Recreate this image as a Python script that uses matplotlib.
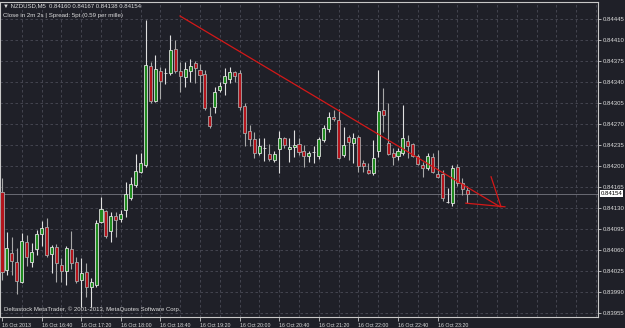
import numpy as np
import matplotlib
matplotlib.use("Agg")
import matplotlib.pyplot as plt
from matplotlib import font_manager

# NZDUSD M5, 16 Oct 2013 16:00 .. 23:50
opens = [0.84157, 0.84027, 0.84055, 0.84040, 0.84007, 0.84073, 0.84040, 0.84062, 0.84087, 0.84098,
         0.84053, 0.84065, 0.84035, 0.84025, 0.84062, 0.84040, 0.84010, 0.84023, 0.83998, 0.84002,
         0.84107, 0.84125, 0.84092, 0.84117, 0.84112, 0.84127, 0.84147, 0.84168, 0.84190, 0.84202,
         0.84367, 0.84308, 0.84358, 0.84355, 0.84355, 0.84395, 0.84358, 0.84348, 0.84358, 0.84372,
         0.84360, 0.84353, 0.84283, 0.84298, 0.84327, 0.84338, 0.84345, 0.84357, 0.84355, 0.84300,
         0.84258, 0.84245, 0.84222, 0.84230, 0.84220, 0.84210, 0.84228, 0.84247, 0.84228, 0.84232,
         0.84237, 0.84225, 0.84217, 0.84223, 0.84217, 0.84243, 0.84262, 0.84282, 0.84277, 0.84218,
         0.84248, 0.84238, 0.84248, 0.84205, 0.84193, 0.84188, 0.84225, 0.84293, 0.84238, 0.84222,
         0.84217, 0.84222, 0.84242, 0.84237, 0.84217, 0.84202, 0.84197, 0.84215, 0.84187, 0.84187,
         0.84140, 0.84138, 0.84198, 0.84172, 0.84160]
highs = [0.84180, 0.84090, 0.84082, 0.84063, 0.84088, 0.84085, 0.84072, 0.84093, 0.84108, 0.84113,
         0.84068, 0.84070, 0.84047, 0.84067, 0.84092, 0.84048, 0.84047, 0.84038, 0.84013, 0.84110,
         0.84148, 0.84127, 0.84123, 0.84123, 0.84127, 0.84173, 0.84182, 0.84220, 0.84222, 0.84443,
         0.84373, 0.84385, 0.84365, 0.84363, 0.84418, 0.84410, 0.84373, 0.84373, 0.84378, 0.84375,
         0.84370, 0.84360, 0.84298, 0.84332, 0.84340, 0.84363, 0.84365, 0.84358, 0.84360, 0.84305,
         0.84268, 0.84257, 0.84247, 0.84247, 0.84237, 0.84225, 0.84258, 0.84248, 0.84247, 0.84260,
         0.84247, 0.84235, 0.84225, 0.84233, 0.84248, 0.84268, 0.84290, 0.84293, 0.84295, 0.84265,
         0.84252, 0.84255, 0.84252, 0.84210, 0.84205, 0.84243, 0.84360, 0.84330, 0.84305, 0.84230,
         0.84230, 0.84302, 0.84252, 0.84238, 0.84220, 0.84207, 0.84222, 0.84222, 0.84227, 0.84193,
         0.84163, 0.84202, 0.84203, 0.84180, 0.84167]
lows = [0.84010, 0.84018, 0.84018, 0.83987, 0.84005, 0.84033, 0.84032, 0.84052, 0.84067, 0.84048,
        0.84022, 0.84007, 0.84007, 0.84002, 0.84028, 0.84005, 0.83965, 0.83982, 0.83965, 0.83998,
        0.84105, 0.84080, 0.84073, 0.84082, 0.84107, 0.84115, 0.84143, 0.84165, 0.84188, 0.84198,
        0.84305, 0.84307, 0.84312, 0.84337, 0.84352, 0.84355, 0.84323, 0.84332, 0.84340, 0.84338,
        0.84323, 0.84293, 0.84263, 0.84288, 0.84323, 0.84318, 0.84338, 0.84340, 0.84293, 0.84233,
        0.84233, 0.84213, 0.84218, 0.84208, 0.84208, 0.84207, 0.84188, 0.84230, 0.84207, 0.84215,
        0.84218, 0.84198, 0.84207, 0.84205, 0.84212, 0.84240, 0.84257, 0.84275, 0.84212, 0.84215,
        0.84210, 0.84205, 0.84190, 0.84190, 0.84187, 0.84185, 0.84215, 0.84257, 0.84218, 0.84202,
        0.84210, 0.84218, 0.84213, 0.84215, 0.84202, 0.84182, 0.84193, 0.84188, 0.84180, 0.84142,
        0.84138, 0.84133, 0.84167, 0.84152, 0.84138]
closes = [0.84023, 0.84063, 0.84042, 0.84008, 0.84075, 0.84048, 0.84057, 0.84087, 0.84097, 0.84052,
          0.84065, 0.84038, 0.84025, 0.84063, 0.84038, 0.84008, 0.84022, 0.83998, 0.84007, 0.84105,
          0.84128, 0.84083, 0.84117, 0.84110, 0.84120, 0.84153, 0.84170, 0.84192, 0.84205, 0.84368,
          0.84308, 0.84362, 0.84342, 0.84355, 0.84393, 0.84358, 0.84350, 0.84362, 0.84367, 0.84363,
          0.84352, 0.84297, 0.84267, 0.84323, 0.84333, 0.84350, 0.84357, 0.84350, 0.84298, 0.84255,
          0.84245, 0.84222, 0.84233, 0.84230, 0.84212, 0.84220, 0.84247, 0.84235, 0.84232, 0.84235,
          0.84223, 0.84217, 0.84222, 0.84223, 0.84245, 0.84263, 0.84282, 0.84278, 0.84213, 0.84235,
          0.84240, 0.84247, 0.84200, 0.84200, 0.84188, 0.84213, 0.84292, 0.84285, 0.84220, 0.84215,
          0.84225, 0.84247, 0.84233, 0.84217, 0.84203, 0.84197, 0.84217, 0.84190, 0.84182, 0.84147,
          0.84140, 0.84197, 0.84172, 0.84162, 0.84154]

price_ticks = [0.83955 + 0.00035 * k for k in range(15)]
time_labels = ["16 Oct 2013", "16 Oct 16:40", "16 Oct 17:20", "16 Oct 18:00",
               "16 Oct 18:40", "16 Oct 19:20", "16 Oct 20:00", "16 Oct 20:40",
               "16 Oct 21:20", "16 Oct 22:00", "16 Oct 22:40", "16 Oct 23:20"]
bars_per_label = 8
bars_per_grid = 4

# hand-drawn objects (bar index, price)
trend_x = [35.96, 100.6]
trend_y = [0.84450, 0.84132]
arrow_base_x = [93.7, 101.6]
arrow_base_y = [0.84138, 0.84132]
arrow_head_x = [98.8, 100.8]
arrow_head_y = [0.84182, 0.84132]

header = "\u25bc NZDUSD,M5  0.84160 0.84167 0.84138 0.84154"
subheader = "Close in 2m 2s | Spread: 5pt (0.59 per mille)"
footer = "Deltastock MetaTrader, \u00a9 2001-2013, MetaQuotes Software Corp."

BG = "#1f2028"
GRID = "#4a4b56"
TEXT = "#dcdcdc"
FRAME = "#c8c8c8"
BULL = "#1e8a1e"
BEAR = "#b3141c"

names = {f.name for f in font_manager.fontManager.ttflist}
narrow = "Liberation Sans Narrow" if "Liberation Sans Narrow" in names else "Liberation Sans"
fam = [narrow, "DejaVu Sans"]

o = np.array(opens)
h = np.array(highs)
l = np.array(lows)
c = np.array(closes)
idx = np.arange(len(o))
up = c >= o

fig = plt.figure(figsize=(6.25, 3.28), dpi=100, facecolor=BG)
ax = fig.add_axes([0.0, 11 / 328, 598 / 625, 315 / 328], facecolor=BG)

# grid
for p in price_ticks:
    ax.axhline(p, color=GRID, lw=0.6, ls=(0, (3, 3)), zorder=0)
for gx in range(bars_per_grid, 121, bars_per_grid):
    ax.axvline(gx, color=GRID, lw=0.6, ls=(0, (3, 3)), zorder=0)

# current price line
ax.axhline(c[-1], color="#6a6b74", lw=0.7, zorder=1)

# candles
wick_col = np.where(up, "#e0e0e0", "#a8a8a8")
ax.vlines(idx, l, h, colors=wick_col, lw=0.8, zorder=2)
ax.bar(idx, np.abs(c - o), bottom=np.minimum(o, c), width=0.62,
       color=np.where(up, BULL, BEAR), edgecolor=wick_col, linewidth=0.6, zorder=3)

# trend objects
ax.plot(trend_x, trend_y, color="#d41818", lw=0.9, zorder=4)
ax.plot(arrow_base_x, arrow_base_y, color="#d41818", lw=0.9, zorder=4)
ax.plot(arrow_head_x, arrow_head_y, color="#d41818", lw=0.9, zorder=4)

ax.set_xlim(-0.404, 120.4)
ax.set_ylim(0.839483, 0.844733)

ax.yaxis.tick_right()
ax.set_yticks(price_ticks)
ax.set_yticklabels([f"{p:.5f}" for p in price_ticks], family=fam, fontsize=4.3, color=TEXT)
ax.tick_params(axis="y", length=2.5, width=0.6, color=FRAME, pad=0.8)

xt = [i * bars_per_label for i in range(len(time_labels))]
ax.set_xticks(xt)
ax.set_xticklabels(time_labels, family=fam, fontsize=3.8, color=TEXT, ha="left")
ax.tick_params(axis="x", length=3, width=0.6, color=FRAME, pad=1.2)

for s in ax.spines.values():
    s.set_color(FRAME)
    s.set_linewidth(0.8)

# last price box
ax.text(1.005, c[-1], f"{c[-1]:.5f}", transform=ax.get_yaxis_transform(),
        family=fam, fontsize=4.3, color="black", va="center", ha="left",
        bbox=dict(fc="white", ec="none", pad=0.5), clip_on=False, zorder=6)

fig.text(3 / 625, 1 - 6 / 328, header, family=fam, fontsize=4.35, color=TEXT, va="center", ha="left")
fig.text(3 / 625, 1 - 15.5 / 328, subheader, family=fam, fontsize=4.4, color=TEXT, va="center", ha="left")
fig.text(4 / 625, 1 - 309.5 / 328, footer, family=fam, fontsize=4.3, color=TEXT, va="center", ha="left")

fig.savefig("out.png", dpi=100, facecolor=BG)
